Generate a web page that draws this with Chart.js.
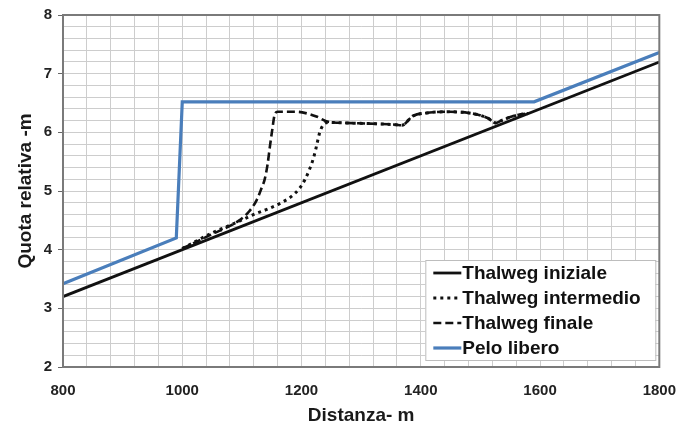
<!DOCTYPE html>
<html>
<head>
<meta charset="utf-8">
<script src="https://cdn.jsdelivr.net/npm/chart.js@4"></script>
<style>
  html, body { margin: 0; padding: 0; background: #fff; }
  #wrap { width: 691px; height: 429px; }
</style>
</head>
<body>
<div id="wrap"><canvas id="profiloChart" width="691" height="429"></canvas></div>
<script>
// Thalweg iniziale (retta)
const xIniziale = [800, 1800];
const yIniziale = [3.2, 7.2];

// Thalweg intermedio
const xIntermedio = [1000, 1053, 1090, 1120, 1145, 1164, 1182, 1197, 1206, 1213, 1220, 1225, 1230, 1236, 1245, 1275, 1310, 1358, 1368, 1387, 1410, 1442, 1487, 1513, 1525, 1535, 1550, 1570, 1580];
const yIntermedio = [4.02, 4.30, 4.46, 4.60, 4.70, 4.79, 4.90, 5.05, 5.20, 5.36, 5.56, 5.76, 5.98, 6.12, 6.17, 6.16, 6.15, 6.13, 6.12, 6.28, 6.33, 6.35, 6.32, 6.24, 6.16, 6.20, 6.26, 6.31, 6.32];

// Thalweg finale
const xFinale = [1000, 1025, 1053, 1075, 1097, 1112, 1125, 1133, 1138, 1143, 1147, 1151, 1155, 1160, 1192, 1210, 1225, 1245, 1275, 1310, 1358, 1368, 1387, 1410, 1442, 1487, 1513, 1525, 1535, 1550, 1570, 1580];
const yFinale = [4.02, 4.14, 4.28, 4.38, 4.51, 4.65, 4.85, 5.05, 5.19, 5.45, 5.76, 6.05, 6.30, 6.35, 6.35, 6.32, 6.27, 6.18, 6.16, 6.15, 6.13, 6.12, 6.28, 6.33, 6.35, 6.32, 6.24, 6.16, 6.20, 6.26, 6.31, 6.32];

// Pelo libero
const xPelo = [800, 990, 1000, 1590, 1800];
const yPelo = [3.42, 4.20, 6.52, 6.52, 7.36];

const xTicks = [800, 1000, 1200, 1400, 1600, 1800];
const yTicks = [2, 3, 4, 5, 6, 7, 8];

const nomiSerie = ['Thalweg iniziale', 'Thalweg intermedio', 'Thalweg finale', 'Pelo libero'];

function punti(xs, ys) {
    return xs.map((x, i) => ({ x: x, y: ys[i] }));
}

const FONT = "'Liberation Sans', Arial, sans-serif";

// riquadro del grafico + legenda interna
const cornice = {
    id: 'cornice',
    afterDraw(chart) {
        const ctx = chart.ctx;
        const a = chart.chartArea;
        ctx.save();
        ctx.strokeStyle = '#7a7a7a';
        ctx.lineWidth = 2;
        ctx.strokeRect(a.left, a.top, a.right - a.left, a.bottom - a.top);

        // legenda
        const bx = a.right - 234, by = a.bottom - 107, bw = 230, bh = 100;
        ctx.fillStyle = '#fff';
        ctx.fillRect(bx, by, bw, bh);
        ctx.strokeStyle = '#bdbdbd';
        ctx.lineWidth = 1;
        ctx.strokeRect(bx + 0.5, by + 0.5, bw, bh);

        chart.data.datasets.forEach((ds, i) => {
            const cy = by + 13 + i * 25;
            ctx.strokeStyle = ds.borderColor;
            ctx.lineWidth = ds.borderWidth;
            ctx.lineCap = 'butt';
            ctx.setLineDash(ds.borderDash || []);
            ctx.beginPath();
            ctx.moveTo(bx + 8, cy);
            ctx.lineTo(bx + 36, cy);
            ctx.stroke();
            ctx.setLineDash([]);
            ctx.fillStyle = '#111';
            ctx.font = "bold 19px " + FONT;
            ctx.textBaseline = 'middle';
            ctx.textAlign = 'left';
            ctx.fillText(ds.label, bx + 37, cy + 1);
        });
        ctx.restore();
    }
};

const ctx = document.getElementById('profiloChart').getContext('2d');
const profiloChart = new Chart(ctx, {
    type: 'line',
    data: {
        datasets: [{
            label: nomiSerie[0],
            data: punti(xIniziale, yIniziale),
            borderColor: '#111111',
            borderWidth: 2.8,
            pointRadius: 0
        }, {
            label: nomiSerie[1],
            data: punti(xIntermedio, yIntermedio),
            borderColor: '#111111',
            borderWidth: 3,
            borderDash: [3, 4],
            cubicInterpolationMode: 'monotone',
            pointRadius: 0
        }, {
            label: nomiSerie[2],
            data: punti(xFinale, yFinale),
            borderColor: '#111111',
            borderWidth: 2.6,
            borderDash: [8, 4],
            cubicInterpolationMode: 'monotone',
            pointRadius: 0
        }, {
            label: nomiSerie[3],
            data: punti(xPelo, yPelo),
            borderColor: '#4a7ebb',
            borderWidth: 3.2,
            pointRadius: 0
        }]
    },
    options: {
        responsive: false,
        animation: false,
        layout: { padding: { left: 10, right: 29, top: 12, bottom: 0 } },
        plugins: {
            legend: { display: false },
            tooltip: { enabled: false }
        },
        scales: {
            x: {
                type: 'linear',
                min: 800,
                max: 1800,
                afterFit(scale) { scale.height = 62; },
                ticks: {
                    stepSize: 40,
                    autoSkip: false,
                    maxRotation: 0,
                    padding: 15,
                    color: '#222',
                    font: { family: FONT, size: 15, weight: 'bold' },
                    callback: v => xTicks.includes(v) ? String(v) : ''
                },
                grid: { color: '#cdcdcd', lineWidth: 1, drawTicks: false },
                border: { display: false },
                title: {
                    display: true,
                    text: 'Distanza- m',
                    color: '#1a1a1a',
                    padding: { top: 0, bottom: 2 },
                    font: { family: FONT, size: 19, weight: 'bold' }
                }
            },
            y: {
                min: 2,
                max: 8,
                afterFit(scale) { scale.width = 53; },
                ticks: {
                    stepSize: 0.2,
                    autoSkip: false,
                    padding: 6,
                    color: '#222',
                    font: { family: FONT, size: 15, weight: 'bold' },
                    callback: v => {
                        const r = Math.round(v);
                        return (Math.abs(v - r) < 1e-6 && yTicks.includes(r)) ? String(r) : '';
                    }
                },
                grid: {
                    color: '#cdcdcd',
                    lineWidth: 1,
                    tickLength: 5,
                    tickColor: c => {
                        const v = c.tick ? c.tick.value : 0;
                        return Math.abs(v - Math.round(v)) < 1e-6 ? '#666' : 'rgba(0,0,0,0)';
                    }
                },
                border: { display: false },
                title: {
                    display: true,
                    text: 'Quota relativa -m',
                    color: '#1a1a1a',
                    padding: { top: 4, bottom: 0 },
                    font: { family: FONT, size: 19, weight: 'bold' }
                }
            }
        }
    },
    plugins: [cornice]
});
</script>
</body>
</html>
